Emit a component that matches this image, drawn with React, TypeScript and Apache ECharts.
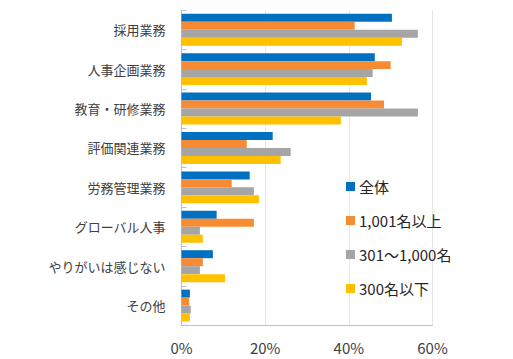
import React, { useEffect, useRef } from "react";
import * as echarts from "echarts";

const categories = ["採用業務", "人事企画業務", "教育・研修業務", "評価関連業務", "労務管理業務", "グローバル人事", "やりがいは感じない", "その他"];
const seriesNames = ["全体", "1,001名以上", "301～1,000名", "300名以下"];
const allValues = [50.3, 46.2, 45.3, 21.8, 16.3, 8.4, 7.5, 2.0];
const largeValues = [41.4, 50.0, 48.4, 15.6, 12.0, 17.3, 5.1, 1.8];
const midValues = [56.5, 45.7, 56.5, 26.1, 17.3, 4.4, 4.4, 2.2];
const smallValues = [52.7, 44.3, 38.1, 23.7, 18.5, 5.1, 10.4, 2.0];
const xTicks = [0, 20, 40, 60];
const colors = ["#0070C0", "#F68B33", "#A5A5A5", "#FFC000"];

const FONT = "'Noto Sans CJK JP', 'Noto Sans', sans-serif";

export default function App() {
  const ref = useRef<HTMLDivElement>(null);
  useEffect(() => {
    if (!ref.current) return;
    const chart = echarts.init(ref.current, undefined, { renderer: "svg" });
    const data = [allValues, largeValues, midValues, smallValues];
    chart.setOption({
      animation: false,
      textStyle: { fontFamily: FONT },
      grid: { left: 181.5, right: 80.5, top: 10, bottom: 33.7, containLabel: false },
      legend: {
        orient: "vertical",
        left: 341,
        top: 174,
        itemWidth: 9,
        itemHeight: 9,
        itemGap: 19,
        icon: "rect",
        data: seriesNames,
        textStyle: { fontSize: 15, color: "#262626", fontFamily: FONT, padding: [0, 0, 0, -1] },
      },
      xAxis: {
        type: "value",
        min: xTicks[0],
        max: xTicks[xTicks.length - 1],
        interval: 20,
        axisLine: { show: true, lineStyle: { color: "#BFBFBF", width: 1 } },
        axisTick: { show: false },
        splitLine: { show: true, lineStyle: { color: "#E6E6E6", width: 1 } },
        axisLabel: {
          formatter: (v: number) => v + "%",
          fontSize: 15,
          color: "#404040",
          margin: 15,
          fontFamily: FONT,
        },
      },
      yAxis: {
        type: "category",
        inverse: true,
        data: categories,
        axisLine: { show: true, lineStyle: { color: "#BFBFBF", width: 1 } },
        axisTick: { show: true, inside: true, length: 5, lineStyle: { color: "#BFBFBF" } },
        axisLabel: { fontSize: 13, color: "#404040", margin: 16, fontFamily: FONT },
      },
      series: seriesNames.map((name, i) => ({
        name,
        type: "bar",
        data: data[i],
        itemStyle: { color: colors[i] },
        barGap: "0%",
        barCategoryGap: "19%",
      })),
    });
    return () => chart.dispose();
  }, []);
  return <div ref={ref} style={{ width: 513, height: 359, position: "absolute", left: 0, top: 0 }} />;
}
